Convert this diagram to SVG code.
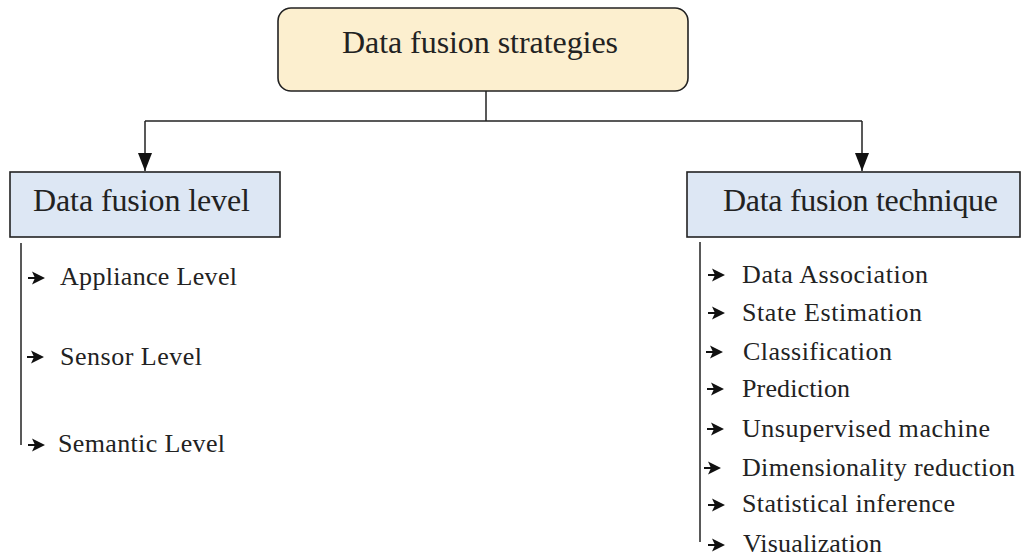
<svg xmlns="http://www.w3.org/2000/svg" width="1024" height="556" viewBox="0 0 1024 556">
<defs>
<marker id="ah" markerWidth="18" markerHeight="14" refX="18" refY="7" orient="auto" markerUnits="userSpaceOnUse" viewBox="0 0 18 14">
<path d="M0,0 L18,7 L0,14 Z" fill="#111"/>
</marker>
<g id="bul">
<line x1="0" y1="0" x2="8" y2="0" stroke="#111" stroke-width="2"/>
<path d="M4,-6.5 L17,0 L4,6.5 L7,0 Z" fill="#111"/>
</g>
</defs>
<style>
.t{font-family:"Liberation Serif","Times New Roman",serif;fill:#222}
.h{font-size:32px}
.i{font-size:26px}
.ln{stroke:#222;stroke-width:1.5;fill:none}
.box{stroke:#222;stroke-width:1.6}
</style>
<rect width="1024" height="556" fill="#fff"/>
<g id="connectors">
<line class="ln" x1="486" y1="91" x2="486" y2="121"/>
<path class="ln" d="M145,121 L862,121"/>
<line class="ln" x1="145" y1="121" x2="145" y2="171" marker-end="url(#ah)"/>
<line class="ln" x1="862" y1="121" x2="862" y2="171" marker-end="url(#ah)"/>
<line class="ln" x1="21" y1="243" x2="21" y2="445"/>
<line class="ln" x1="700" y1="242" x2="700" y2="542"/>
</g>
<g id="node-root">
<rect class="box" x="278" y="8" width="410" height="83" rx="13" fill="#fcefcf"/>
<text class="t h" x="342" y="53" textLength="276" lengthAdjust="spacing">Data fusion strategies</text>
</g>
<g id="node-level">
<rect class="box" x="10" y="172" width="270" height="65" fill="#dde7f4"/>
<text class="t h" x="33" y="211" textLength="217" lengthAdjust="spacing">Data fusion level</text>
</g>
<g id="node-technique">
<rect class="box" x="687" y="172" width="333" height="65" fill="#dde7f4"/>
<text class="t h" x="723" y="211" textLength="275" lengthAdjust="spacing">Data fusion technique</text>
</g>
<g id="level-items">
<use href="#bul" x="28" y="278"/>
<text class="t i" x="60" y="285" textLength="177" lengthAdjust="spacing">Appliance Level</text>
<use href="#bul" x="27" y="357"/>
<text class="t i" x="60" y="365" textLength="142" lengthAdjust="spacing">Sensor Level</text>
<use href="#bul" x="28" y="445"/>
<text class="t i" x="58" y="452" textLength="167" lengthAdjust="spacing">Semantic Level</text>
</g>
<g id="technique-items">
<use href="#bul" x="708" y="275"/>
<text class="t i" x="742" y="283" textLength="186" lengthAdjust="spacing">Data Association</text>
<use href="#bul" x="708" y="313"/>
<text class="t i" x="742" y="321" textLength="180" lengthAdjust="spacing">State Estimation</text>
<use href="#bul" x="706" y="352"/>
<text class="t i" x="743" y="360" textLength="149" lengthAdjust="spacing">Classification</text>
<use href="#bul" x="707" y="389"/>
<text class="t i" x="742" y="397" textLength="108" lengthAdjust="spacing">Prediction</text>
<use href="#bul" x="707" y="429"/>
<text class="t i" x="742" y="437" textLength="248" lengthAdjust="spacing">Unsupervised machine</text>
<use href="#bul" x="704" y="468"/>
<text class="t i" x="742" y="476" textLength="273" lengthAdjust="spacing">Dimensionality reduction</text>
<use href="#bul" x="708" y="505"/>
<text class="t i" x="742" y="512" textLength="213" lengthAdjust="spacing">Statistical inference</text>
<use href="#bul" x="708" y="545"/>
<text class="t i" x="743" y="552" textLength="139" lengthAdjust="spacing">Visualization</text>
</g>
</svg>
